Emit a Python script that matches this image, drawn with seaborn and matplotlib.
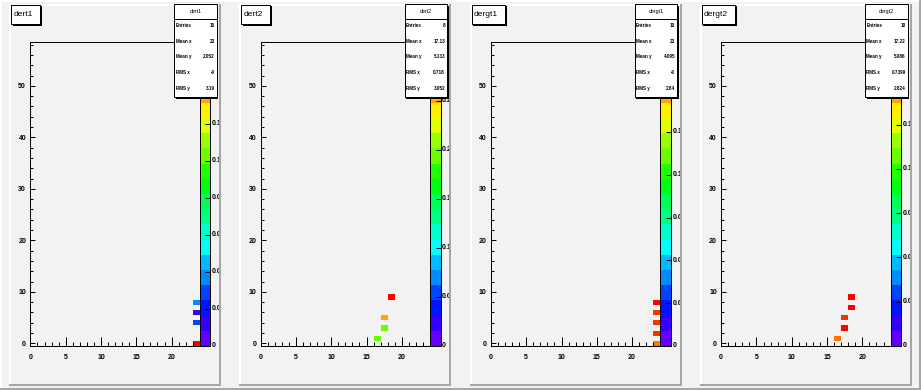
import colorsys
import matplotlib
matplotlib.use("Agg")
import numpy as np
import pandas as pd
import seaborn as sns
import matplotlib.pyplot as plt
from matplotlib.colors import ListedColormap
from matplotlib.patches import Rectangle
from matplotlib.lines import Line2D
from matplotlib.transforms import Bbox, TransformedBbox, offset_copy

# ---- values ----
titles = ["dert1", "dert2", "dergt1", "dergt2"]

dert1_x = [23, 23, 23, 23]
dert1_y = [0, 4, 6, 8]
dert1_w = [0.164, 0.030, 0.012, 0.039]

dert2_x = [16, 17, 17, 18]
dert2_y = [1, 3, 5, 9]
dert2_w = [0.194, 0.194, 0.256, 0.310]

dergt1_x = [23, 23, 23, 23, 23]
dergt1_y = [0, 2, 4, 6, 8]
dergt1_w = [0.186, 0.197, 0.197, 0.197, 0.213]

dergt2_x = [16, 17, 17, 18, 18]
dergt2_y = [1, 3, 5, 7, 9]
dergt2_w = [0.180, 0.198, 0.191, 0.206, 0.198]

stat_names = ["Entries", "Mean x", "Mean y", "RMS x", "RMS y"]
dert1_stats = ["10", "23", "2.052", "-0", "3.19"]
dert2_stats = ["8", "17.13", "5.133", "0.718", "3.052"]
dergt1_stats = ["10", "23", "4.095", "-0", "2.84"]
dergt2_stats = ["10", "17.22", "5.086", "0.7399", "2.824"]

x_ticks = [0, 5, 10, 15, 20]
y_ticks = [0, 10, 20, 30, 40, 50]
z_ticks_dert1 = [0, 0.02, 0.04, 0.06, 0.08, 0.1, 0.12, 0.14, 0.16]
z_ticks_dert2 = [0, 0.05, 0.1, 0.15, 0.2, 0.25, 0.3]
z_ticks_dergt = [0, 0.03, 0.06, 0.09, 0.12, 0.15, 0.18, 0.21]

x_edges = np.arange(0, 25)
y_edges = np.arange(-0.5, 59.0, 1.0)

plt.rcParams['font.family'] = ['Liberation Sans', 'DejaVu Sans']

# ROOT "pretty" palette (violet -> red), 20 contour levels
pal50 = [colorsys.hls_to_rgb((280 - (i + 1) * 280 / 50) / 360, 0.5, 1.0) for i in range(50)]
cmap = ListedColormap([pal50[int((k + 0.99) * 50 / 20)] for k in range(20)])

BG = "#f2f2f2"
DARK = "#a6a6a6"
W, H = 921, 390
fig = plt.figure(figsize=(W / 100, H / 100), dpi=100)
fig.patch.set_facecolor(BG)


def fx(x):
    return x / W


def fy(y):
    return 1 - y / H


def line(x0, y0, x1, y1, color, lw=1.44, z=4):
    fig.add_artist(Line2D([fx(x0), fx(x1)], [fy(y0), fy(y1)], transform=fig.transFigure,
                          color=color, lw=lw, solid_capstyle="butt", zorder=z))


def box(x0, y0, x1, y1, z=5):
    fig.add_artist(Rectangle((fx(x0 + 1.5), fy(y1 + 1.5)), (x1 - x0) / W, (y1 - y0) / H,
                             transform=fig.transFigure, facecolor="black", edgecolor="none", zorder=z))
    fig.add_artist(Rectangle((fx(x0), fy(y1)), (x1 - x0) / W, (y1 - y0) / H,
                             transform=fig.transFigure, facecolor="white", edgecolor="black",
                             lw=0.72, zorder=z + 0.5))


# canvas bevel
line(0, 1, W, 1, "white")
line(1, 0, 1, H, "white")
line(0, H - 1.5, W, H - 1.5, DARK)
line(W - 1.5, 0, W - 1.5, H, DARK)

panels = [
    (titles[0], dert1_x, dert1_y, dert1_w, dert1_stats, z_ticks_dert1),
    (titles[1], dert2_x, dert2_y, dert2_w, dert2_stats, z_ticks_dert2),
    (titles[2], dergt1_x, dergt1_y, dergt1_w, dergt1_stats, z_ticks_dergt),
    (titles[3], dergt2_x, dergt2_y, dergt2_w, dergt2_stats, z_ticks_dergt),
]

renderer = fig.canvas.get_renderer()
STATS_BOTTOM = 97

for i, (name, xs, ys, ws, stats, zt) in enumerate(panels):
    L = W * (0.01 + 0.25 * i)
    R = W * (0.24 + 0.25 * i)
    T = H * 0.01
    B = H * 0.99
    pw, ph = R - L, B - T

    # pad bevel
    line(L, T + 1, R, T + 1, "white")
    line(L + 1, T, L + 1, B, "white")
    line(L, B - 1, R, B - 1, DARK)
    line(R - 1, T, R - 1, B, DARK)

    fl, fr = L + 0.1 * pw, L + 0.9 * pw
    ft, fb = T + 0.1 * ph, B - 0.105 * ph
    ax = fig.add_axes([fx(fl), fy(fb), (fr - fl) / W, (fb - ft) / H])
    cax = fig.add_axes([fx(fr), fy(fb), (L + 0.95 * pw - fr) / W, (fb - ft) / H])

    df = pd.DataFrame({"x": xs, "y": ys, "w": ws})
    zmax = max(ws)
    sns.histplot(data=df, x="x", y="y", weights="w", bins=[x_edges, y_edges],
                 cmap=cmap, vmin=0, vmax=zmax, cbar=True, cbar_ax=cax, ax=ax)

    ax.set(xlim=(0, 24), ylim=(-0.5, 58.5), xlabel="", ylabel="")
    ax.set_facecolor("none")
    ax.set_xticks(x_ticks)
    ax.set_xticks(np.arange(1, 24), minor=True)
    ax.set_yticks(y_ticks)
    ax.set_yticks(np.arange(0, 59, 2), minor=True)
    ax.tick_params(axis="x", which="major", direction="in", length=6.5, width=0.72,
                   labelsize=5, pad=5.8, colors="black")
    ax.tick_params(axis="x", which="minor", direction="in", length=3.2, width=0.72)
    ax.tick_params(axis="y", which="major", direction="in", length=3.6, width=0.72,
                   labelsize=5, pad=3.1, colors="black")
    ax.tick_params(axis="y", which="minor", direction="in", length=1.8, width=0.72)
    for lab in ax.get_xticklabels() + ax.get_yticklabels():
        lab.set_fontweight("bold")
    for sp in ax.spines.values():
        sp.set_linewidth(0.72)
        sp.set_color("black")

    cb = ax.collections[0].colorbar
    zt = [v for v in zt if v <= zmax]
    cb.set_ticks(zt)
    cb.minorticks_off()
    cb.outline.set_linewidth(0.72)
    cax.tick_params(axis="y", which="both", direction="in", length=3.6, width=0.72,
                    right=True, left=False, labelright=False, labelleft=False)
    clip = TransformedBbox(Bbox([[fx(L), fy(B)], [fx(R - 2), fy(T)]]), fig.transFigure)
    trans = offset_copy(cax.get_yaxis_transform(), fig=fig, x=1.0, units="points")
    for v in zt:
        # labels lying under the stats box are hidden in the original
        if fb - v / zmax * (fb - ft) < STATS_BOTTOM + 2:
            continue
        t = cax.text(1.0, v, f"{v:g}", transform=trans, ha="left", va="center",
                     fontsize=5, fontweight="bold", clip_on=True)
        t.set_clip_box(clip)

    # title box
    tt = fig.text(fx(L + 4), fy(14.5), name, fontsize=6, ha="left", va="center", zorder=7)
    tw = tt.get_window_extent(renderer).width
    box(L + 2, 4.7, L + 2 + tw + 9.5, 24.3)

    # stats box
    sx0, sx1 = L + 0.78 * pw, L + 0.98 * pw
    box(sx0, 4.5, sx1, STATS_BOTTOM)
    line(sx0, 19, sx1, 19, "black", lw=0.72, z=6.6)
    fig.text(fx((sx0 + sx1) / 2), fy(11.5), name, fontsize=3.8, ha="center", va="center", zorder=7)
    for k, (lab, val) in enumerate(zip(stat_names, stats)):
        yy = 25.5 + 15.7 * k
        fig.text(fx(sx0 + 1.2), fy(yy), lab, fontsize=3.3, ha="left", va="center",
                 fontweight="bold", zorder=7)
        fig.text(fx(sx1 - 2), fy(yy), val, fontsize=3.3, ha="right", va="center",
                 fontweight="bold", zorder=7)

fig.savefig("out.png", dpi=100, facecolor=BG)
